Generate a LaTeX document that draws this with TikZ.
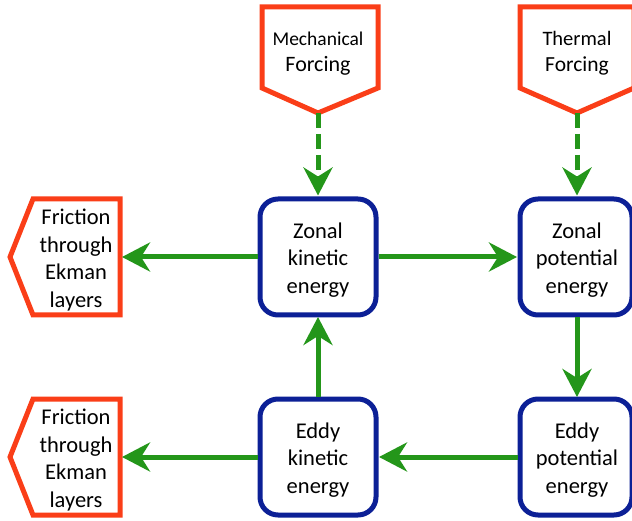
\documentclass[tikz,border=0pt]{standalone}
\usepackage{fontspec}
\setmainfont{Carlito}
\usetikzlibrary{arrows.meta}
\definecolor{fred}{RGB}{250,62,24}
\definecolor{eblue}{RGB}{12,32,150}
\definecolor{agreen}{RGB}{36,150,26}
\tikzset{
  ebox/.style={draw=eblue, line width=5pt, rounded corners=18pt, fill=white,
    inner sep=0pt, minimum height=116pt},
  etext/.style={align=center, inner sep=0pt, font=\fontsize{22.5}{27.5}\selectfont},
  fshape/.style={draw=fred, line width=5pt, line join=miter, fill=white},
  flow/.style={draw=agreen, line width=5pt,
    -{Stealth[length=28pt, width=29pt, inset=9pt]}},
  dflow/.style={flow, dash pattern=on 15pt off 6pt},
  lbl/.style={align=center, inner sep=0pt}
}
\begin{document}
\begin{tikzpicture}[x=1pt,y=-1pt]
\useasboundingbox (0,0) rectangle (632,521);
% forcing shapes
\draw[fshape] (262,7) -- (378,7) -- (378,88) -- (318,113) -- (262,88) -- cycle;
\coordinate (mfp) at (318,113);
\node[lbl, font=\fontsize{22}{26}\selectfont] (mf) at (318,54) {{\fontsize{19.5}{26}\selectfont Mechanical}\\Forcing};
\draw[fshape] (520,7) -- (634,7) -- (634,88) -- (577,113) -- (520,88) -- cycle;
\coordinate (tfp) at (577,113);
\node[lbl, font=\fontsize{21.5}{25.5}\selectfont] (tf) at (577,53) {{\fontsize{20.5}{25.5}\selectfont Thermal}\\Forcing};
% friction shapes
\draw[fshape] (120,199) -- (120,315) -- (33,315) -- (10,257) -- (33,199) -- cycle;
\coordinate (f1) at (120,257);
\node[lbl, font=\fontsize{22.5}{27.5}\selectfont] (fr1) at (76,260) {Friction\\through\\Ekman\\layers};
\draw[fshape] (120,399) -- (120,515) -- (33,515) -- (10,457) -- (33,399) -- cycle;
\coordinate (f2) at (120,457);
\node[lbl, font=\fontsize{22.5}{27.5}\selectfont] (fr2) at (76,460) {Friction\\through\\Ekman\\layers};
% energy boxes
\node[ebox, minimum width=116pt] (zk) at (318,257) {};
\node[etext] (zkt) at (318,260) {Zonal\\kinetic\\energy};
\node[ebox, minimum width=112pt] (zp) at (576,257) {};
\node[etext] (zpt) at (577,260) {Zonal\\potential\\energy};
\node[ebox, minimum width=116pt] (ek) at (318,457) {};
\node[etext] (ekt) at (318,460) {Eddy\\kinetic\\energy};
\node[ebox, minimum width=112pt] (ep) at (576,457) {};
\node[etext] (ept) at (577,460) {Eddy\\potential\\energy};
% connectors
\draw[dflow] (mfp) -- ([yshift=1pt]zk.north);
\draw[dflow] (tfp) -- ([yshift=1pt]zp.north -| tfp);
\draw[flow] (zk.west) -- ([xshift=2pt]f1);
\draw[flow] (zk.east) -- ([xshift=-0.5pt]zp.west);
\draw[flow] (zp.south -| tfp) -- ([yshift=-0.5pt]ep.north -| tfp);
\draw[flow] (ep.west) -- ([xshift=0.5pt]ek.east);
\draw[flow] (ek.north) -- ([yshift=0.5pt]zk.south);
\draw[flow] (ek.west) -- ([xshift=2pt]f2);
\end{tikzpicture}
\end{document}
